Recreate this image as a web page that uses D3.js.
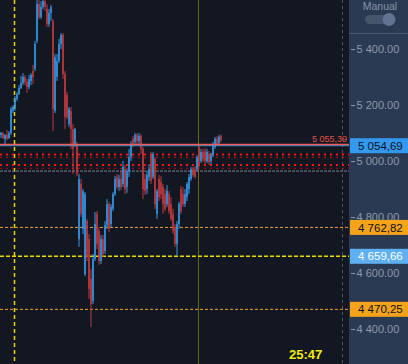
<!DOCTYPE html>
<html><head><meta charset="utf-8">
<script src="https://cdn.jsdelivr.net/npm/d3@7"></script>
<style>html,body{margin:0;padding:0;background:#121722;overflow:hidden}svg{display:block}</style>
</head><body>
<svg id="c" width="408" height="364"></svg>
<script>
const open = [5093,5100,5079,5093,5082,5100,5179,5193,5221,5239,5261,5279,5300,5282,5264,5286,5321,5329,5429,5561,5514,5550,5571,5543,5489,5529,5500,5179,5300,5357,5418,5450,5311,5236,5132,5179,5114,5061,5061,4721,4918,4757,4596,4786,4721,4579,4500,4650,4811,4750,4643,4721,4679,4771,4846,4775,4829,4882,4943,4907,4936,4918,4971,4907,4964,5014,5079,5068,5093,5071,5089,5043,4936,4900,4943,5021,4943,5007,4811,4936,4925,4907,4882,4846,4882,4846,4811,4764,4704,4775,4900,4882,4846,4871,4900,4936,4971,4971,4971,5050,5000,5032,5036,5000,5025,5000,5021,5050,5079,5064,5089];
const close = [5100,5082,5093,5079,5100,5186,5193,5221,5239,5261,5279,5300,5282,5264,5293,5307,5300,5418,5561,5514,5550,5571,5550,5489,5529,5550,5186,5371,5357,5418,5450,5311,5157,5157,5186,5114,5043,5114,4954,4936,4811,4893,4882,4657,4543,4489,4650,4775,4704,4643,4721,4668,4771,4846,4757,4836,4882,4936,4907,4936,4907,4979,4900,4964,5014,5061,5057,5093,5071,5089,5043,4900,4893,4950,4971,4929,5025,4846,4893,4871,4882,4846,4829,4893,4821,4793,4750,4704,4775,4846,4821,4846,4882,4918,4943,4971,4950,4943,5014,4989,5032,5007,5000,5032,4996,5021,5057,5079,5061,5086,5075];
const high = [5104,5104,5096,5111,5107,5193,5200,5232,5246,5271,5304,5314,5307,5293,5307,5314,5343,5429,5596,5579,5571,5589,5589,5561,5543,5557,5507,5382,5382,5436,5457,5457,5321,5246,5193,5193,5132,5118,5068,4954,4936,4900,4889,4793,4739,4614,4668,4818,4821,4764,4736,4736,4786,4864,4854,4846,4889,4946,4954,4950,4968,5000,4986,4971,5043,5071,5089,5100,5100,5100,5096,5050,4954,4964,4989,5032,5032,5014,4900,4950,4946,4918,4900,4914,4893,4871,4829,4775,4786,4854,4911,4907,4900,4925,4954,4979,4979,4982,5021,5057,5043,5043,5046,5043,5036,5029,5068,5086,5089,5093,5096];
const low = [5082,5079,5054,5075,5079,5093,5171,5179,5214,5236,5257,5271,5271,5243,5257,5271,5275,5321,5421,5507,5507,5543,5536,5479,5479,5500,5107,5171,5286,5350,5400,5293,5114,5150,5121,5043,4954,5050,4946,4693,4800,4739,4589,4643,4507,4407,4489,4643,4686,4629,4632,4657,4668,4757,4746,4764,4821,4875,4900,4893,4896,4907,4882,4886,4943,5000,5050,5057,5057,5057,5025,4864,4879,4882,4929,4918,4936,4829,4793,4857,4864,4811,4821,4836,4811,4786,4739,4693,4661,4757,4811,4836,4836,4857,4882,4929,4943,4936,4964,4979,4993,4996,4989,4993,4986,4989,5014,5043,5054,5057,5068];

const tickValues = [5400, 5200, 5000, 4800, 4600, 4400];
const tickLabels = ["5 400.00", "5 200.00", "5 000.00", "4 800.00", "4 600.00", "4 400.00"];

const priceTags = [5054.69, 4762.82, 4659.66, 4470.25];
const priceTagLabels = ["5 054,69", "4 762,82", "4 659,66", "4 470,25"];

const lastPrice = 5054.69;
const alertLevel = 5055.39;
const alertLabel = "5 055,39";
const squareDotLevels = [5023, 4986];
const thinDotLevels = [5013, 4974];
const greyLevel = 4964;
const orangeLevels = [4762.82, 4470.25];
const yellowLevel = 4659.66;
const timerText = "25:47";
const toggleText = "Manual";

const W = 408, H = 364, plotRight = 349;
const svg = d3.select("#c");
const FONT = "'Liberation Sans', Arial, sans-serif";

svg.append("rect").attr("width", W).attr("height", H).attr("fill", "#121722");

const x = d3.scaleBand().domain(d3.range(open.length)).range([0, 222]).padding(0);
const y = d3.scaleLinear().domain([4400, 5400]).range([329, 49]);

// vertical lines
svg.append("line").attr("x1", 14.5).attr("x2", 14.5).attr("y1", 0).attr("y2", H)
  .attr("stroke", "#e6d600").attr("stroke-width", 1.5).attr("stroke-dasharray", "4,3");
svg.append("line").attr("x1", 198.5).attr("x2", 198.5).attr("y1", 0).attr("y2", H)
  .attr("stroke", "#6a6614").attr("stroke-width", 1);
svg.append("line").attr("x1", 342.5).attr("x2", 342.5).attr("y1", 0).attr("y2", H)
  .attr("stroke", "#4e5460").attr("stroke-width", 1).attr("stroke-dasharray", "3,3");

// horizontal level lines
svg.append("line").attr("x1", 0).attr("x2", plotRight).attr("y1", y(greyLevel)).attr("y2", y(greyLevel))
  .attr("stroke", "#7b7f8a").attr("stroke-width", 1).attr("stroke-dasharray", "3,1");
squareDotLevels.forEach(v => {
  svg.append("line").attr("x1", 0).attr("x2", plotRight).attr("y1", y(v)).attr("y2", y(v))
    .attr("stroke", "#ff1010").attr("stroke-width", 2).attr("stroke-dasharray", "2,4");
});
thinDotLevels.forEach(v => {
  svg.append("line").attr("x1", 0).attr("x2", plotRight).attr("y1", y(v)).attr("y2", y(v))
    .attr("stroke", "#c80a0a").attr("stroke-width", 1).attr("stroke-dasharray", "2,4");
});
orangeLevels.forEach(v => {
  svg.append("line").attr("x1", 0).attr("x2", plotRight).attr("y1", y(v)).attr("y2", y(v))
    .attr("stroke", "#f0a430").attr("stroke-width", 1).attr("stroke-dasharray", "3,2");
});
svg.append("line").attr("x1", 0).attr("x2", plotRight).attr("y1", y(yellowLevel)).attr("y2", y(yellowLevel))
  .attr("stroke", "#e8de00").attr("stroke-width", 1.5).attr("stroke-dasharray", "4,2");

// candles
const idx = d3.range(open.length);
const g = svg.append("g");
idx.forEach(i => {
  const up = close[i] >= open[i];
  const col = up ? "#3498e8" : "#c03a3e";
  const cx = x(i) + x.bandwidth() / 2;
  g.append("line").attr("x1", cx).attr("x2", cx).attr("y1", y(high[i])).attr("y2", y(low[i]))
    .attr("stroke", col).attr("stroke-width", 1);
  const top = y(Math.max(open[i], close[i])), bot = y(Math.min(open[i], close[i]));
  g.append("rect").attr("x", x(i) + 0.25).attr("width", x.bandwidth() - 0.5)
    .attr("y", top).attr("height", Math.max(1, bot - top)).attr("fill", col);
});

// last price + alert lines
svg.append("line").attr("x1", 0).attr("x2", plotRight).attr("y1", y(lastPrice)).attr("y2", y(lastPrice))
  .attr("stroke", "#3a9ee8").attr("stroke-width", 1);
svg.append("line").attr("x1", 0).attr("x2", plotRight).attr("y1", y(alertLevel) - 1).attr("y2", y(alertLevel) - 1)
  .attr("stroke", "#ee5a55").attr("stroke-width", 1.5);
svg.append("text").attr("x", 347).attr("y", y(alertLevel) - 3).attr("text-anchor", "end")
  .attr("font-family", FONT).attr("font-size", 9).attr("fill", "#e8504a").text(alertLabel);

// right panel
svg.append("rect").attr("x", plotRight).attr("y", 0).attr("width", W - plotRight).attr("height", H).attr("fill", "#2a3a53");
svg.append("line").attr("x1", plotRight).attr("x2", W).attr("y1", 33.5).attr("y2", 33.5).attr("stroke", "#4a5a74");
svg.append("text").attr("x", 380).attr("y", 10).attr("text-anchor", "middle")
  .attr("font-family", FONT).attr("font-size", 10.5).attr("fill", "#8893a6").text(toggleText);
svg.append("rect").attr("x", 365).attr("y", 15).attr("width", 30).attr("height", 9).attr("rx", 4.5).attr("fill", "#46546c");
svg.append("circle").attr("cx", 389).attr("cy", 19.5).attr("r", 6.5).attr("fill", "#627391");

const axis = d3.axisRight(y).tickValues(tickValues).tickSize(4).tickPadding(1.5)
  .tickFormat((d, i) => tickLabels[i]);
const ag = svg.append("g").attr("transform", `translate(${plotRight + 2},0)`).call(axis);
ag.select(".domain").remove();
ag.selectAll("line").attr("stroke", "#8a95a8");
ag.selectAll("text").attr("fill", "#8e99ac").attr("font-family", FONT).attr("font-size", 11);

// price tags
const tagFill = ["#3399ee", "#f6a31c", "#5eb0f2", "#f6a31c"];
const tagText = ["#0c1118", "#0c1118", "#ffffff", "#0c1118"];
priceTags.forEach((v, i) => {
  svg.append("rect").attr("x", plotRight + 1).attr("y", y(v) - 7.5).attr("width", W - plotRight - 1).attr("height", 15)
    .attr("fill", tagFill[i]);
  svg.append("text").attr("x", 358).attr("y", y(v)).attr("dy", "0.36em")
    .attr("font-family", FONT).attr("font-size", 11.5).attr("fill", tagText[i]).text(priceTagLabels[i]);
});

// timer
svg.append("text").attr("x", 289).attr("y", 359).attr("font-family", FONT).attr("font-weight", "bold")
  .attr("font-size", 13).attr("fill", "#f2ee00").text(timerText);
</script>
</body></html>
